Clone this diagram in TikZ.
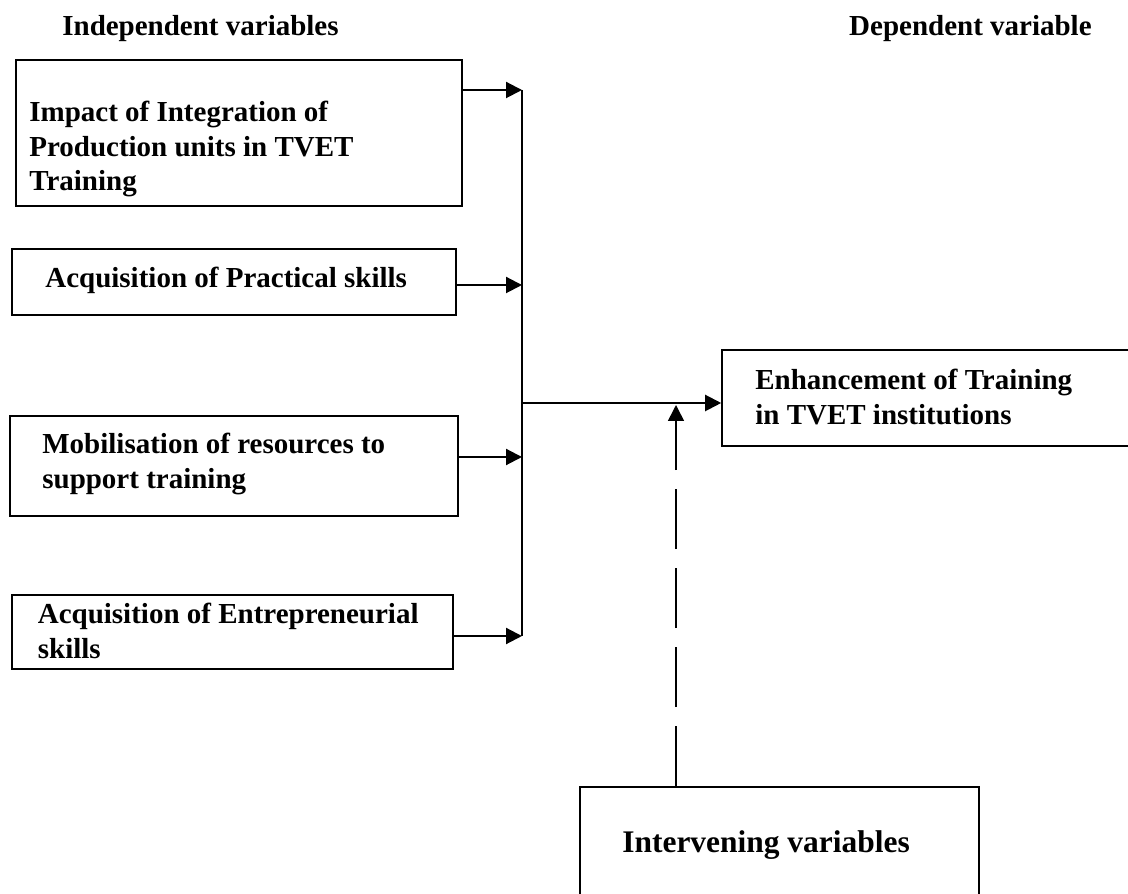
\documentclass[tikz,border=0pt]{standalone}
\usepackage{fontspec}
\setmainfont{Liberation Serif}
\usepackage{tikz}
\usetikzlibrary{arrows.meta, calc}
\tikzset{
	box/.style={
		draw,
		rectangle,
		line width=0.9pt,
		inner sep=0pt
	},
	txt/.style={
		anchor=north west,
		align=left,
		inner sep=0pt,
		font=\fontsize{16.5}{19.6}\selectfont\bfseries
	}
}

\begin{document}
\begin{tikzpicture}
	\tikzset{edge/.style={-{Triangle[length=0.32cm,width=0.32cm]}, line width=1.2pt}}
	\tikzset{bus/.style={line width=1.2pt}}
	
	\useasboundingbox (0,0) rectangle (22.56,-17.88);
	\clip (0,0) rectangle (22.56,-17.88);
	
	\node(hd_ind) at (1.24,-0.30) [txt] {Independent variables};
	\node(hd_dep) at (21.84,-0.30) [txt, anchor=north east] {Dependent variable};
	
	\node(imp) at (4.78,-2.66) [box, minimum width=8.92cm, minimum height=2.92cm] {};
	\node(prac) at (4.68,-5.64) [box, minimum width=8.88cm, minimum height=1.32cm] {};
	\node(mob) at (4.68,-9.32) [box, minimum width=8.96cm, minimum height=2.00cm] {};
	\node(ent) at (4.65,-12.64) [box, minimum width=8.82cm, minimum height=1.48cm] {};
	
	\node(imp_t) at (0.58,-2.02) [txt] {Impact of Integration of\\Production units in TVET\\Training};
	\node(prac_t) at (0.90,-5.34) [txt] {Acquisition of Practical skills};
	\node(mob_t) at (0.84,-8.66) [txt] {Mobilisation of resources to\\support training};
	\node(ent_t) at (0.75,-12.06) [txt] {Acquisition of Entrepreneurial\\skills};
	
	\node(enh) at (18.72,-7.96) [box, minimum width=8.56cm, minimum height=1.92cm] {}; % runs past the right edge
	\node(enh_t) at (15.10,-7.38) [txt] {Enhancement of Training\\in TVET institutions};
	
	\node(intv) at (15.59,-17.47) [box, minimum width=7.98cm, minimum height=3.46cm] {};
	\node(intv_t) at (12.44,-16.61) [txt, font=\fontsize{17.9}{21}\selectfont\bfseries] {Intervening variables};
	
	
	\coordinate (b1) at (10.44,-1.80);
	\coordinate (b2) at (10.44,-5.70);
	\coordinate (b3) at (10.44,-9.14);
	\coordinate (b4) at (10.44,-12.72);
	\coordinate (bm) at (10.44,-8.06);
	\coordinate (jn) at (13.52,-8.10);
	
	\draw[bus] (b1) -- (b4);
	
	\draw[edge] (imp.east |- b1) -- (b1);
	\draw[edge] (prac.east |- b2) -- (b2);
	\draw[edge] (mob.east |- b3) -- (b3);
	\draw[edge] (ent.east |- b4) -- (b4);
	
	\draw[edge] (bm) -- (enh.west |- bm);
	
	\draw[edge, line width=0.9pt, dash pattern=on 1.20cm off 0.38cm] (intv.north -| jn) -- (jn);
	
\end{tikzpicture}
\end{document}
